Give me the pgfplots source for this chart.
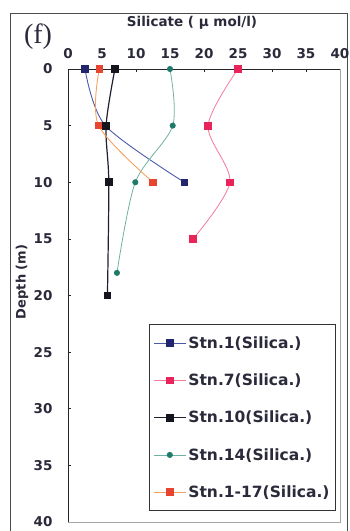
\documentclass[border=0pt]{standalone}
\usepackage{pgfplots}
\pgfplotsset{compat=1.18}
\usepackage{fontspec}
\setmainfont{DejaVu Sans}
\newfontfamily\serifF{Liberation Serif}
\definecolor{cOneL}{HTML}{4A5AA8}
\definecolor{cOneM}{HTML}{23256E}
\definecolor{cSevL}{HTML}{F47A98}
\definecolor{cSevM}{HTML}{E8245A}
\definecolor{cTenL}{HTML}{202030}
\definecolor{cTenM}{HTML}{151520}
\definecolor{cFouL}{HTML}{6FB0A5}
\definecolor{cFouM}{HTML}{1F7A6A}
\definecolor{cAllL}{HTML}{F5A263}
\definecolor{cAllM}{HTML}{E84530}
\definecolor{txt}{HTML}{2A2A3A}
\begin{document}
\begin{tikzpicture}
\useasboundingbox (-68pt,-9pt) rectangle (281pt,522pt);
\draw[black!70, line width=0.8pt] (-58pt,-10pt) -- (-58pt,509pt) -- (279pt,509pt) -- (279pt,-10pt);
\begin{axis}[
  at={(0,0)}, anchor=south west,
  scale only axis, width=272pt, height=453pt,
  xmin=0, xmax=40, ymin=0, ymax=40,
  y dir=reverse,
  axis x line*=top, axis y line*=left,
  axis line style={black!85, line width=0.9pt},
  xtick={0,5,...,40}, ytick={0,5,...,40},
  tick align=inside, major tick length=3pt,
  tick style={black!85, line width=0.6pt},
  /pgf/number format/assume math mode=true,
  every tick label/.append style={font=\bfseries\fontsize{13.5}{15}\selectfont, text=txt},
  xticklabel style={yshift=7pt},
  yticklabel style={xshift=-12pt},
  title={Silicate ( μ mol/l)},
  title style={at={(axis description cs:0.456,1.088)}, anchor=center, font=\bfseries\fontsize{13.5}{15}\selectfont, text=txt},
  ylabel={Depth (m)},
  ylabel style={at={(axis description cs:-0.169,0.53)}, anchor=center, font=\bfseries\fontsize{13}{15}\selectfont, text=txt},
  legend style={at={(axis description cs:0.985,0.437)}, anchor=north east,
    draw=black!80, line width=0.8pt, fill=white,
    font=\bfseries\fontsize{15.5}{17}\selectfont, text=txt,
    row sep=20pt, inner xsep=4pt, inner ysep=10pt,
    /tikz/every odd column/.append style={column sep=0pt}},
  legend cell align=left,
  legend image code/.code={\draw[mark repeat=2,mark phase=2,#1] plot coordinates {(0pt,0pt) (16pt,0pt) (32pt,0pt)};},
  clip=false,
]
\draw[black!35, line width=0.8pt] (axis cs:40,0) -- (axis cs:40,40) -- (axis cs:0,40);
\addplot[cOneL, line width=0.9pt, smooth, mark=square*, mark size=3.3pt, mark options={fill=cOneM, draw=cOneM, solid}]
  coordinates {(2.5,0) (5.5,5) (17.1,10)};
\addlegendentry{Stn.1(Silica.)}
\addplot[cSevL, line width=0.8pt, smooth, mark=square*, mark size=3.3pt, mark options={fill=cSevM, draw=cSevM}]
  coordinates {(25.0,0) (20.6,5) (23.8,10) (18.4,15)};
\addlegendentry{Stn.7(Silica.)}
\addplot[cTenL, line width=1.2pt, smooth, mark=square*, mark size=3.3pt, mark options={fill=cTenM, draw=cTenM}]
  coordinates {(6.9,0) (5.6,5) (6.0,10) (5.8,20)};
\addlegendentry{Stn.10(Silica.)}
\addplot[cFouL, line width=0.8pt, smooth, mark=*, mark size=2.6pt, mark options={fill=cFouM, draw=cFouM}]
  coordinates {(15.0,0) (15.4,5) (9.9,10) (7.2,18)};
\addlegendentry{Stn.14(Silica.)}
\addplot[cAllL, line width=0.9pt, smooth, mark=square*, mark size=3.3pt, mark options={fill=cAllM, draw=cAllM}]
  coordinates {(4.6,0) (4.5,5) (12.5,10)};
\addlegendentry{Stn.1-17(Silica.)}
\node[font=\serifF\fontsize{28}{30}\selectfont, text=txt] at (axis description cs:-0.110,1.071) {(f)};
\end{axis}
\end{tikzpicture}
\end{document}
